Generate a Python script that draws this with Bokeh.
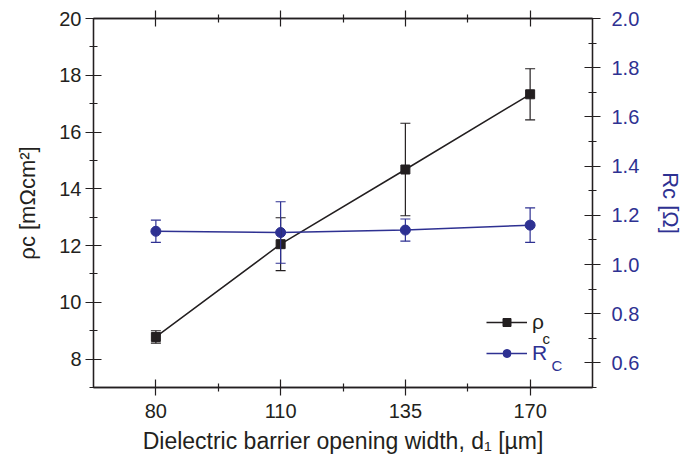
from bokeh.plotting import figure
from bokeh.models import (Range1d, LinearAxis, FixedTicker, Whisker, ColumnDataSource,
                          TeeHead, Legend, LegendItem, Label, NumeralTickFormatter,
                          CustomJSTickFormatter)
from bokeh.embed import file_html
from bokeh.resources import INLINE

# ---- data ----
x_labels = ["80", "110", "135", "170"]
rho = [8.78, 12.05, 14.68, 17.33]
rho_err = [0.22, 0.93, 1.63, 0.90]
rc = [1.135, 1.13, 1.14, 1.16]
rc_err = [0.045, 0.125, 0.045, 0.07]

left_ticks = [8, 10, 12, 14, 16, 18, 20]
left_minor = [7, 9, 11, 13, 15, 17, 19]
right_ticks = [0.6, 0.8, 1.0, 1.2, 1.4, 1.6, 1.8, 2.0]
right_minor = [0.5, 0.7, 0.9, 1.1, 1.3, 1.5, 1.7, 1.9]

BLACK = "#231f20"
BLUE = "#2e3192"
FONT = "Liberation Sans"
TICK_FS = "20px"
TITLE_FS = "22px"

xs = list(range(len(x_labels)))
x_minor = [i + 0.5 for i in xs[:-1]]

p = figure(width=686, height=458, x_range=Range1d(-0.5, 3.5), y_range=Range1d(7, 20),
           output_backend="svg", toolbar_location=None,
           min_border_left=93, min_border_right=93, min_border_top=18, min_border_bottom=71)
p.extra_y_ranges = {"r": Range1d(0.5, 2.0)}
p.grid.visible = False
p.outline_line_color = BLACK
p.outline_line_width = 1.3
p.background_fill_color = "white"
p.border_fill_color = "white"


def style_axis(ax, color_labels=BLACK):
    ax.axis_line_color = BLACK
    ax.axis_line_width = 1.3
    ax.major_tick_line_color = BLACK
    ax.minor_tick_line_color = BLACK
    ax.major_tick_line_width = 1.2
    ax.minor_tick_line_width = 1.2
    ax.major_tick_in = 8
    ax.major_tick_out = 8
    ax.minor_tick_in = 4
    ax.minor_tick_out = 4
    ax.major_label_text_font = FONT
    ax.major_label_text_font_size = TICK_FS
    ax.major_label_text_color = color_labels
    ax.axis_label_text_font = FONT
    ax.axis_label_text_font_size = TITLE_FS
    ax.axis_label_text_font_style = "normal"
    ax.axis_label_text_color = color_labels


# bottom axis
xb = p.xaxis[0]
xb.ticker = FixedTicker(ticks=xs, minor_ticks=x_minor)
xb.major_label_overrides = {i: s for i, s in zip(xs, x_labels)}
style_axis(xb)
xb.major_label_standoff = 8
xb.axis_label = "Dielectric barrier opening width, d\u2081 [µm]"
xb.axis_label_text_font_size = "23px"
xb.axis_label_standoff = 7

# left axis
yl = p.yaxis[0]
yl.ticker = FixedTicker(ticks=left_ticks, minor_ticks=left_minor)
style_axis(yl)
yl.major_label_standoff = 4
yl.axis_label = "ρ\u1d04 [mΩcm²]"
yl.axis_label_standoff = 16

# top axis (ticks only)
xt = LinearAxis(ticker=FixedTicker(ticks=xs, minor_ticks=x_minor),
                formatter=CustomJSTickFormatter(code="return ''"))
style_axis(xt)
xt.major_label_standoff = 0
p.add_layout(xt, "above")

# right axis
yr = LinearAxis(y_range_name="r", ticker=FixedTicker(ticks=right_ticks, minor_ticks=right_minor),
                formatter=NumeralTickFormatter(format="0.0"))
style_axis(yr, BLUE)
yr.major_label_standoff = 11
yr.axis_label = "R\u1d04 [Ω]"
yr.axis_label_standoff = 16
p.add_layout(yr, "right")

# ---- data series ----
src_rho = ColumnDataSource(dict(x=xs, y=rho,
                                upper=[v + e for v, e in zip(rho, rho_err)],
                                lower=[v - e for v, e in zip(rho, rho_err)]))
src_rc = ColumnDataSource(dict(x=xs, y=rc,
                               upper=[v + e for v, e in zip(rc, rc_err)],
                               lower=[v - e for v, e in zip(rc, rc_err)]))

w1 = Whisker(base="x", upper="upper", lower="lower", source=src_rho,
             line_color=BLACK, line_width=1.2, level="glyph",
             upper_head=TeeHead(size=10, line_color=BLACK, line_width=1.2),
             lower_head=TeeHead(size=10, line_color=BLACK, line_width=1.2))
p.add_layout(w1)
l1 = p.line("x", "y", source=src_rho, line_color=BLACK, line_width=1.5)
s1 = p.scatter("x", "y", source=src_rho, marker="square", size=9,
               fill_color=BLACK, line_color=BLACK)

w2 = Whisker(base="x", upper="upper", lower="lower", source=src_rc, y_range_name="r",
             line_color=BLUE, line_width=1.2, level="glyph",
             upper_head=TeeHead(size=10, line_color=BLUE, line_width=1.2),
             lower_head=TeeHead(size=10, line_color=BLUE, line_width=1.2))
p.add_layout(w2)
l2 = p.line("x", "y", source=src_rc, y_range_name="r", line_color=BLUE, line_width=1.5)
s2 = p.scatter("x", "y", source=src_rc, y_range_name="r", marker="circle", size=10,
               fill_color=BLUE, line_color=BLUE)


# ---- legends ----
def mk_legend(label, rends, color, loc):
    lg = Legend(items=[LegendItem(label=label, renderers=rends)], location=loc,
                glyph_width=41, glyph_height=20, label_standoff=5, spacing=0,
                padding=0, margin=0, border_line_color=None, background_fill_alpha=0,
                label_text_font=FONT, label_text_font_size="21px",
                label_text_color=color)
    p.add_layout(lg)


mk_legend("ρ", [l1, s1], BLACK, (393, 53))
mk_legend("R", [l2, s2], BLUE, (393, 22))


def lab(text, x, y, size, color=BLACK):
    p.add_layout(Label(x=x, y=y, x_units="screen", y_units="screen", text=text,
                       text_font=FONT, text_font_size=size, text_color=color,
                       text_align="left", text_baseline="alphabetic"))


# legend subscripts
lab("c", 449, 49, "15px", BLACK)
lab("C", 458, 22, "15px", BLUE)

open("out.html", "w").write(file_html(p, INLINE))
